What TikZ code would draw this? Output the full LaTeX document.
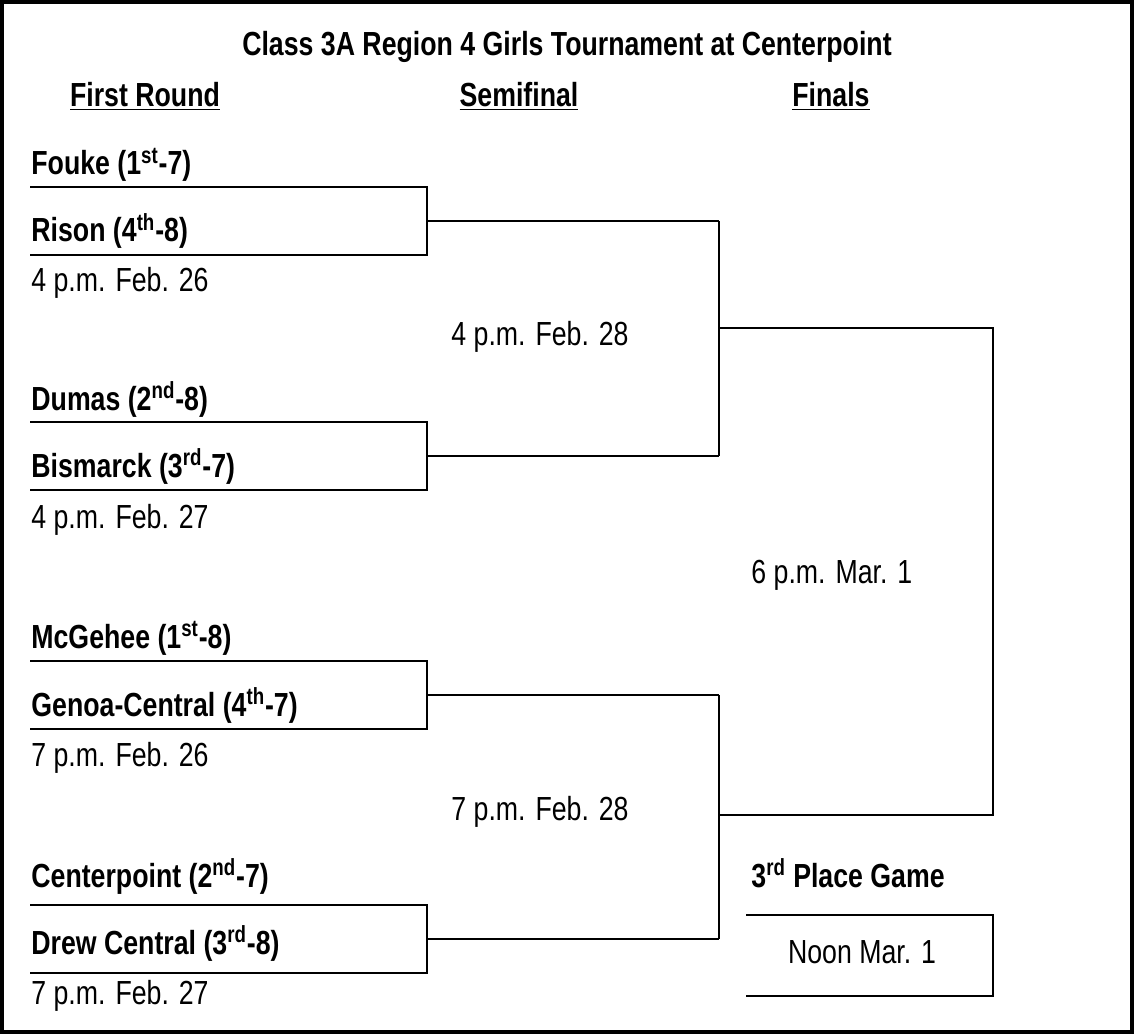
\documentclass[tikz,border=0pt]{standalone}
\usepackage{fontspec}
\setmainfont[FakeStretch=0.8]{Liberation Sans}
\begin{document}
\begin{tikzpicture}[x=0.02cm,y=-0.02cm,line width=1.6pt,
    team/.style={anchor=base west,inner sep=0pt,font=\fontsize{19}{22}\selectfont\bfseries},
    time/.style={anchor=base west,inner sep=0pt,font=\fontsize{19}{22}\selectfont},
    head/.style={anchor=base,inner sep=0pt,font=\fontsize{19}{22}\selectfont\bfseries}]
        % 边框
        \useasboundingbox (0,0) rectangle (1134,1034);
        \draw [line width=2.4pt] (1.5,1.5) rectangle (1132.5,1032.5);
        % 标题
        \node [head] (title) at (567,56) {Class 3A Region 4 Girls Tournament at Centerpoint};
        \node [head] (h1) at (145,107) {\underline{First Round}};
        \node [head] (h2) at (519,107) {\underline{Semifinal}};
        \node [head] (h3) at (831,107) {\underline{Finals}};
        % 第一轮
        \node [team] (t1) at (30,175) {Fouke (1\textsuperscript{st}-7)};
        \node [team] (t2) at (30,242) {Rison (4\textsuperscript{th}-8)};
        \node [time] (g1) at (30,292) {4 p.m. Feb. 26};
        \node [team] (t3) at (30,410) {Dumas (2\textsuperscript{nd}-8)};
        \node [team] (t4) at (30,477) {Bismarck (3\textsuperscript{rd}-7)};
        \node [time] (g2) at (30,528) {4 p.m. Feb. 27};
        \node [team] (t5) at (30,648) {McGehee (1\textsuperscript{st}-8)};
        \node [team] (t6) at (30,716) {Genoa-Central (4\textsuperscript{th}-7)};
        \node [time] (g3) at (30,766) {7 p.m. Feb. 26};
        \node [team] (t7) at (30,887) {Centerpoint (2\textsuperscript{nd}-7)};
        \node [team] (t8) at (30,954) {Drew Central (3\textsuperscript{rd}-8)};
        \node [time] (g4) at (30,1004) {7 p.m. Feb. 27};
        % 半决赛, 决赛
        \node [time] (s1) at (450,345) {4 p.m. Feb. 28};
        \node [time] (s2) at (450,820) {7 p.m. Feb. 28};
        \node [time] (f) at (750,583) {6 p.m. Mar. 1};
        \node [team] (p3) at (750,887) {3\textsuperscript{rd} Place Game};
        \node [time,anchor=base] (noon) at (862,963) {Noon Mar. 1};
        % 对阵线
        \foreach \a/\b/\m in {187/255/221,422/490/456,661/729/695,905/973/939}
            \draw (30,\a) -- (427,\a) -- (427,\b) -- (30,\b)
                  (427,\m) -- (719,\m);
        \draw (719,221) -- (719,456) (719,695) -- (719,939);
        \draw (719,328) -- (993,328) -- (993,815) -- (719,815);
        \draw (746,915) -- (993,915) -- (993,996) -- (746,996);
    \end{tikzpicture}
\end{document}
